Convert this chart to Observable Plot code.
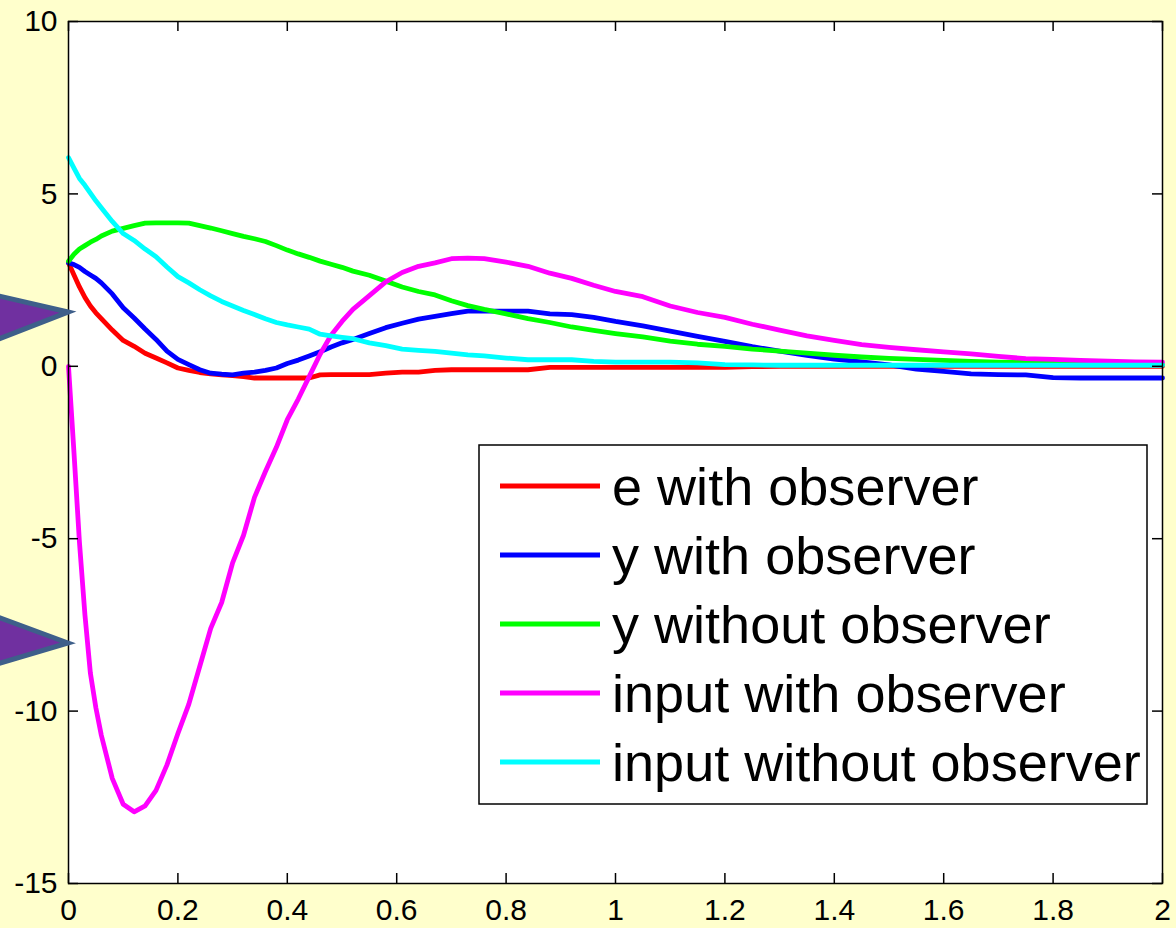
<!DOCTYPE html>
<html><head><meta charset="utf-8">
<script src="https://cdn.jsdelivr.net/npm/d3@7"></script>
<script src="https://cdn.jsdelivr.net/npm/@observablehq/plot@0.6"></script>
<style>
html,body{margin:0;padding:0;background:#FFFFCC;}
#wrap{position:relative;width:1176px;height:928px;overflow:hidden;background:#FFFFCC;}
#wrap > svg{position:absolute;left:0;top:0;}
</style></head><body><div id="wrap"></div>
<script>
const time = [0,0.01,0.02,0.03,0.04,0.05,0.06,0.08,0.10,0.12,0.14,0.16,0.18,0.20,0.22,0.24,0.26,0.28,0.30,0.32,0.34,0.36,0.38,0.40,0.42,0.44,0.46,0.48,0.50,0.52,0.55,0.58,0.61,0.64,0.67,0.70,0.73,0.76,0.80,0.84,0.88,0.92,0.96,1.00,1.05,1.10,1.15,1.20,1.25,1.30,1.35,1.40,1.45,1.50,1.55,1.60,1.65,1.70,1.75,1.80,1.85,1.90,1.95,2.00];

const eWithObserver = [3.0,2.65,2.3,2.0,1.75,1.55,1.38,1.05,0.75,0.58,0.38,0.24,0.1,-0.05,-0.12,-0.18,-0.22,-0.25,-0.27,-0.3,-0.34,-0.34,-0.34,-0.34,-0.34,-0.34,-0.25,-0.24,-0.24,-0.24,-0.24,-0.2,-0.17,-0.17,-0.12,-0.1,-0.1,-0.1,-0.1,-0.1,-0.03,-0.03,-0.03,-0.03,-0.03,-0.03,-0.03,-0.03,-0.01,0,0,0,0,0,0,0,0,0,0,0,0,0,0,0];

const yWithObserver = [3.0,2.95,2.87,2.75,2.65,2.55,2.42,2.1,1.7,1.4,1.08,0.78,0.44,0.2,0.05,-0.1,-0.2,-0.23,-0.25,-0.2,-0.17,-0.12,-0.05,0.08,0.18,0.3,0.42,0.56,0.68,0.78,0.95,1.12,1.25,1.37,1.45,1.53,1.6,1.6,1.6,1.6,1.52,1.5,1.42,1.3,1.17,1.02,0.87,0.72,0.57,0.44,0.32,0.21,0.13,0.04,-0.08,-0.15,-0.22,-0.24,-0.25,-0.33,-0.34,-0.34,-0.34,-0.34];

const yWithoutObserver = [3.05,3.25,3.4,3.5,3.6,3.68,3.78,3.92,4.0,4.08,4.15,4.16,4.16,4.16,4.15,4.08,4.01,3.93,3.85,3.77,3.7,3.62,3.5,3.37,3.26,3.16,3.05,2.96,2.87,2.76,2.64,2.47,2.3,2.17,2.07,1.9,1.76,1.65,1.52,1.38,1.27,1.14,1.04,0.95,0.85,0.73,0.64,0.58,0.5,0.44,0.38,0.32,0.27,0.23,0.2,0.17,0.14,0.12,0.11,0.1,0.08,0.07,0.06,0.05];

const inputWithObserver = [0,-2.5,-5.1,-7.2,-8.9,-9.9,-10.7,-11.95,-12.7,-12.92,-12.75,-12.3,-11.56,-10.65,-9.8,-8.7,-7.6,-6.85,-5.7,-4.9,-3.8,-3.05,-2.35,-1.55,-0.95,-0.3,0.35,0.9,1.3,1.65,2.05,2.45,2.72,2.9,3.0,3.12,3.14,3.12,3.02,2.9,2.7,2.55,2.35,2.17,2.02,1.75,1.56,1.42,1.22,1.05,0.88,0.75,0.63,0.55,0.48,0.42,0.36,0.29,0.22,0.2,0.17,0.15,0.13,0.12];

const inputWithoutObserver = [6.05,5.75,5.45,5.25,5.02,4.8,4.6,4.2,3.85,3.65,3.4,3.18,2.88,2.6,2.42,2.22,2.04,1.88,1.75,1.62,1.5,1.38,1.27,1.2,1.14,1.08,0.93,0.88,0.84,0.8,0.68,0.6,0.5,0.46,0.43,0.38,0.33,0.3,0.24,0.19,0.19,0.19,0.14,0.12,0.12,0.12,0.1,0.05,0.04,0.03,0.03,0.03,0.03,0.03,0.03,0.03,0.03,0.03,0.03,0.03,0.03,0.03,0.03,0.03];

const seriesNames = ["e with observer","y with observer","y without observer","input with observer","input without observer"];
const seriesValues = [eWithObserver, yWithObserver, yWithoutObserver, inputWithObserver, inputWithoutObserver];
const seriesColors = ["#FF0000","#0000FF","#00FF00","#FF00FF","#00FFFF"];

const xTicks = [0,0.2,0.4,0.6,0.8,1,1.2,1.4,1.6,1.8,2];
const xTickLabels = ["0","0.2","0.4","0.6","0.8","1","1.2","1.4","1.6","1.8","2"];
const yTicks = [-15,-10,-5,0,5,10];
const yTickLabels = ["-15","-10","-5","0","5","10"];

const rows = [];
seriesNames.forEach((name, s) => {
  time.forEach((t, i) => rows.push({t, v: seriesValues[s][i], series: name}));
});

const W = 1176, H = 928, mL = 68, mR = 14, mT = 21, mB = 45;
const plotW = W - mL - mR, plotH = H - mT - mB;
const font = "'Liberation Sans', Arial, Helvetica, sans-serif";

const chart = Plot.plot({
  width: W, height: H,
  marginLeft: mL, marginRight: mR, marginTop: mT, marginBottom: mB,
  style: {background: "transparent", fontFamily: font, color: "black", overflow: "visible"},
  x: {domain: [0, 2], label: null},
  y: {domain: [-15, 10], label: null},
  color: {domain: seriesNames, range: seriesColors},
  marks: [
    Plot.frame({fill: "white", stroke: null}),
    Plot.line(rows, {x: "t", y: "v", z: "series", stroke: "series", strokeWidth: 4.8, strokeLinejoin: "round"}),
    Plot.tickX(xTicks, {x: d => d, stroke: "black", strokeWidth: 1.5, insetTop: plotH - 10}),
    Plot.tickX(xTicks, {x: d => d, stroke: "black", strokeWidth: 1.5, insetBottom: plotH - 10}),
    Plot.tickY(yTicks, {y: d => d, stroke: "black", strokeWidth: 1.5, insetRight: plotW - 10}),
    Plot.tickY(yTicks, {y: d => d, stroke: "black", strokeWidth: 1.5, insetLeft: plotW - 10}),
    Plot.axisX(xTicks, {tickSize: 0, tickPadding: 15, fontSize: 30, fill: "black", label: null,
      tickFormat: d => xTickLabels[xTicks.indexOf(d)]}),
    Plot.axisY(yTicks, {tickSize: 0, tickPadding: 11, fontSize: 30, fill: "black", label: null,
      tickFormat: d => yTickLabels[yTicks.indexOf(d)]}),
    Plot.frame({stroke: "black", strokeWidth: 1.5})
  ]
});

const wrap = document.getElementById("wrap");
wrap.appendChild(chart);

// Decorative overlay: slide arrows on the left edge and the legend box
const ns = "http://www.w3.org/2000/svg";
const over = document.createElementNS(ns, "svg");
over.setAttribute("width", W); over.setAttribute("height", H);
over.style.position = "absolute"; over.style.left = "0"; over.style.top = "0"; over.style.overflow = "hidden";
function el(tag, attrs, parent) {
  const e = document.createElementNS(ns, tag);
  for (const k in attrs) e.setAttribute(k, attrs[k]);
  parent.appendChild(e); return e;
}
[["68,312", "-40,287", "-40,354"], ["68,643", "-40,603", "-40,675"]].forEach(p => {
  el("polygon", {points: p.join(" "), fill: "#7030A0", stroke: "#3E5F8A", "stroke-width": 5, "stroke-linejoin": "miter"}, over);
});

const lg = {x: 479, y: 445, w: 668, h: 359, row0: 486, step: 69};
el("rect", {x: lg.x, y: lg.y, width: lg.w, height: lg.h, fill: "white", stroke: "black", "stroke-width": 1.5}, over);
seriesNames.forEach((name, i) => {
  const yy = lg.row0 + i * lg.step;
  el("line", {x1: 500, x2: 600, y1: yy, y2: yy, stroke: seriesColors[i], "stroke-width": 5}, over);
  const t = el("text", {x: 0, y: 0, transform: `translate(612,${yy + 19}) scale(1.06,1)`, "font-size": 51, "font-family": font, fill: "black"}, over);
  t.textContent = name;
});
wrap.appendChild(over);
</script>
</body></html>
